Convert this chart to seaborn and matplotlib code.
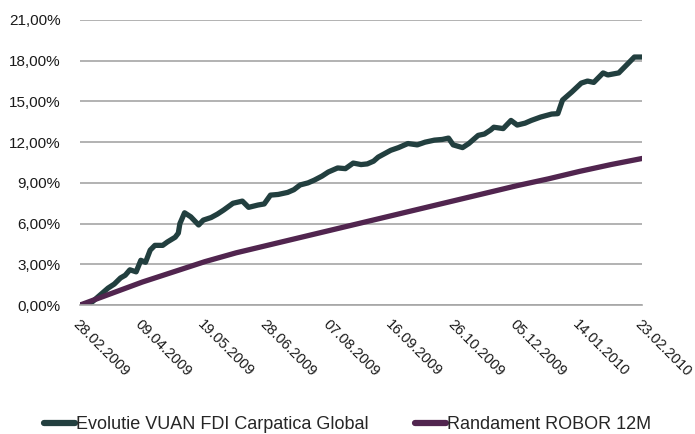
"""Evolutie VUAN FDI Carpatica Global vs Randament ROBOR 12M."""

import matplotlib

matplotlib.use("Agg")

import matplotlib.dates as mdates
import matplotlib.pyplot as plt
import matplotlib.ticker as mticker
import pandas as pd
import seaborn as sns

START_DATE = "2009-02-28"

# fund evolution: days after start, cumulative return in %
fund_days = [
    0, 4, 8, 13, 18, 22, 26, 29, 32, 36, 39, 42, 45, 48, 53, 56, 61, 63, 64,
    67, 71, 76, 79, 84, 88, 92, 98, 104, 108, 114, 118, 122, 127, 133, 137,
    141, 146, 150, 155, 159, 165, 170, 175, 180, 184, 188, 191, 195, 199, 204,
    210, 216, 221, 227, 232, 236, 239, 245, 249, 255, 259, 263, 265, 271, 276,
    280, 285, 289, 295, 302, 306, 309, 315, 321, 325, 329, 335, 338, 345, 351,
    355, 360,
]
fund_values = [
    0.00, 0.05, 0.25, 0.75, 1.25, 1.55, 2.00, 2.20, 2.60, 2.45, 3.30, 3.15,
    4.05, 4.40, 4.40, 4.65, 5.00, 5.30, 6.00, 6.80, 6.50, 5.90, 6.26, 6.45,
    6.70, 7.00, 7.50, 7.66, 7.20, 7.37, 7.45, 8.10, 8.15, 8.30, 8.50, 8.85,
    9.00, 9.20, 9.50, 9.80, 10.10, 10.05, 10.46, 10.35, 10.40, 10.60, 10.90,
    11.15, 11.40, 11.60, 11.90, 11.80, 12.00, 12.15, 12.20, 12.30, 11.80,
    11.60, 11.90, 12.50, 12.60, 12.90, 13.10, 13.00, 13.60, 13.26, 13.40,
    13.60, 13.85, 14.07, 14.10, 15.10, 15.70, 16.35, 16.50, 16.40, 17.10,
    16.95, 17.10, 17.80, 18.27, 18.27,
]

# ROBOR 12M yield: days after start, cumulative return in %
robor_days = [0, 20, 40, 60, 80, 100, 120, 140, 160, 180, 200, 220, 240, 260,
              280, 300, 320, 340, 360]
robor_values = [0.00, 0.85, 1.70, 2.45, 3.20, 3.85, 4.40, 4.95, 5.50, 6.05,
                6.60, 7.15, 7.70, 8.25, 8.80, 9.30, 9.85, 10.35, 10.80]

FUND_LABEL = "Evolutie VUAN FDI Carpatica Global"
ROBOR_LABEL = "Randament ROBOR 12M"
y_ticks = [0, 3, 6, 9, 12, 15, 18, 21]


def build_frame() -> pd.DataFrame:
    start = pd.Timestamp(START_DATE)
    fund = pd.DataFrame({
        "date": start + pd.to_timedelta(fund_days, unit="D"),
        "value": fund_values,
        "series": FUND_LABEL,
    })
    robor = pd.DataFrame({
        "date": start + pd.to_timedelta(robor_days, unit="D"),
        "value": robor_values,
        "series": ROBOR_LABEL,
    })
    return pd.concat([fund, robor], ignore_index=True)


def main() -> None:
    sns.set_style("white")
    plt.rcParams["font.family"] = ["Liberation Sans", "DejaVu Sans"]

    df = build_frame()
    start = pd.Timestamp(START_DATE)
    end = start + pd.Timedelta(days=360)

    fig = plt.figure(figsize=(6.95, 4.34), dpi=100)
    ax = fig.add_axes([0.115, 0.297, 0.809, 0.657])

    palette = {FUND_LABEL: "#223f3f", ROBOR_LABEL: "#51254f"}
    sns.lineplot(data=df, x="date", y="value", hue="series", palette=palette,
                 linewidth=3.8, ax=ax, legend=False, solid_capstyle="round")

    ax.set_ylim(0, 21)
    ax.set_xlim(start, end)
    ax.set_yticks(y_ticks)
    ax.yaxis.set_major_formatter(
        mticker.FuncFormatter(lambda v, _: f"{v:.2f}".replace(".", ",") + "%"))

    xticks = pd.date_range(start, end, freq="40D")
    ax.set_xticks(xticks)
    ax.xaxis.set_major_formatter(mdates.DateFormatter("%d.%m.%Y"))
    for lbl in ax.get_xticklabels():
        lbl.set_rotation(-45)
        lbl.set_ha("left")
        lbl.set_va("top")
        lbl.set_rotation_mode("anchor")

    ax.yaxis.grid(True, color="#a6a6a6", linewidth=1.2)
    ax.xaxis.grid(False)
    for side in ("top", "right", "left"):
        ax.spines[side].set_visible(False)
    ax.spines["bottom"].set_color("#a6a6a6")
    ax.spines["bottom"].set_linewidth(1.2)
    ax.tick_params(axis="both", length=0, colors="#1a1a1a")
    ax.tick_params(axis="y", labelsize=11, pad=14)
    ax.tick_params(axis="x", labelsize=10.5, pad=9)
    ax.set_xlabel("")
    ax.set_ylabel("")

    handles = [
        plt.Line2D([], [], color=palette[FUND_LABEL], linewidth=4.5, solid_capstyle="round"),
        plt.Line2D([], [], color=palette[ROBOR_LABEL], linewidth=4.5, solid_capstyle="round"),
    ]
    fig.legend(handles, [FUND_LABEL, ROBOR_LABEL], loc="lower center",
               bbox_to_anchor=(0.5, -0.035), ncol=2, frameon=False,
               fontsize=13, handlelength=1.7, handletextpad=0.05,
               columnspacing=2.6)

    fig.savefig("out.png", dpi=100)
    plt.close(fig)


if __name__ == "__main__":
    main()
